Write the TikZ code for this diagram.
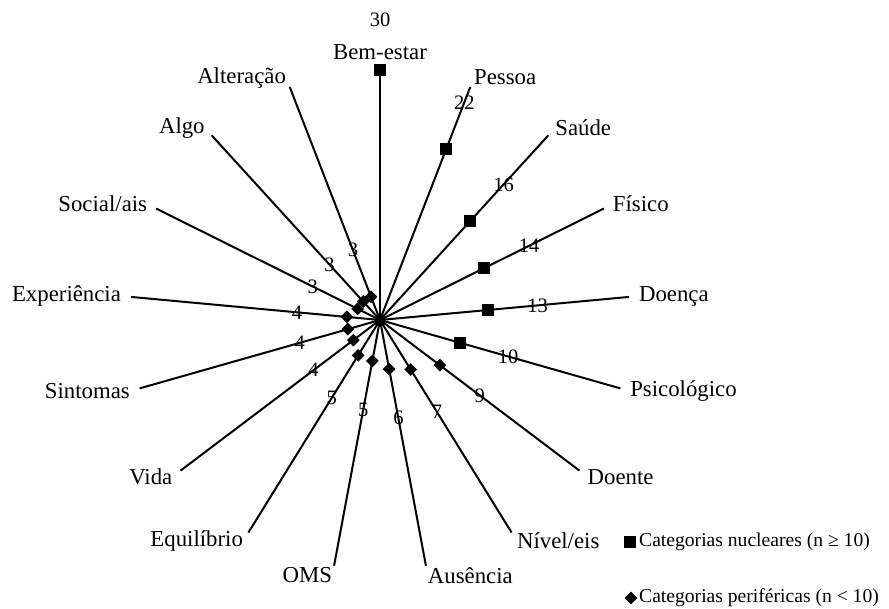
\documentclass[tikz,border=0pt]{standalone}
\usepackage{fontspec}
\setmainfont{Liberation Serif}
\usetikzlibrary{calc}
\begin{document}
\begin{tikzpicture}[x=1pt,y=1pt,
  spoke/.style={line width=2pt, black},
  catlabel/.style={font=\fontsize{22.8}{25}\selectfont, inner sep=0pt},
  vallabel/.style={font=\fontsize{20.5}{23}\selectfont, inner sep=0pt},
  legendtext/.style={font=\fontsize{19.6}{22}\selectfont, inner sep=0pt, anchor=west},
  nucleo/.style={rectangle, fill=black, minimum size=12pt, inner sep=0pt},
  perif/.style={rectangle, rotate=45, fill=black, minimum size=9pt, inner sep=0pt}
]
\useasboundingbox (0,0) rectangle (889,-609);
\coordinate (O) at (380,-320);

% spokes: one per category, 360/17 degrees apart, starting straight up
\foreach \i in {0,...,16}{
  \pgfmathsetmacro\ang{90-\i*360/17}
  \coordinate (e\i) at ($(O)+(\ang:250)$);
  \coordinate (t\i) at ($(O)+(\ang:260)$);
  \draw[spoke] (O) -- (e\i);
}
% markers (scale 0..30 over the spoke length) and their values
\foreach \i/\v in {0/30,1/22,2/16,3/14,4/13,5/10,6/9,7/7,8/6,9/5,10/5,11/4,12/4,13/4,14/3,15/3,16/3}{
  \pgfmathsetmacro\ang{90-\i*360/17}
  \ifnum\v<10 \def\mk{perif}\else \def\mk{nucleo}\fi
  \node[\mk] (m\i) at ($(O)+(\ang:{\v*250/30})$) {};
  \node[vallabel] (v\i) at ($(O)+(\ang:{\v*250/30+50})$) {\v};
}

% category names
\node[catlabel, anchor=south] (l0) at (t0) {Bem-estar};
\node[catlabel, anchor=west] (l1) at (t1) {Pessoa};
\node[catlabel, anchor=west] (l2) at (t2) {Saúde};
\node[catlabel, anchor=west] (l3) at (t3) {Físico};
\node[catlabel, anchor=west] (l4) at (t4) {Doença};
\node[catlabel, anchor=west] (l5) at (t5) {Psicológico};
\node[catlabel, anchor=west] (l6) at (t6) {Doente};
\node[catlabel, anchor=west] (l7) at (t7) {Nível/eis};
\node[catlabel, anchor=west] (l8) at (t8) {Ausência};
\node[catlabel, anchor=east] (l9) at (t9) {OMS};
\node[catlabel, anchor=east] (l10) at (t10) {Equilíbrio};
\node[catlabel, anchor=east] (l11) at (t11) {Vida};
\node[catlabel, anchor=east] (l12) at (t12) {Sintomas};
\node[catlabel, anchor=east] (l13) at (t13) {Experiência};
\node[catlabel, anchor=east] (l14) at (t14) {Social/ais};
\node[catlabel, anchor=east] (l15) at (t15) {Algo};
\node[catlabel, anchor=east] (l16) at (t16) {Alteração};

% legend
\node[nucleo] (k1) at (630,-542) {};
\node[legendtext] (k1t) at (639,-542) {Categorias nucleares (n ≥ 10)};
\node[perif] (k2) at (631,-598) {};
\node[legendtext] (k2t) at (639,-598) {Categorias periféricas (n < 10)};
\end{tikzpicture}
\end{document}
